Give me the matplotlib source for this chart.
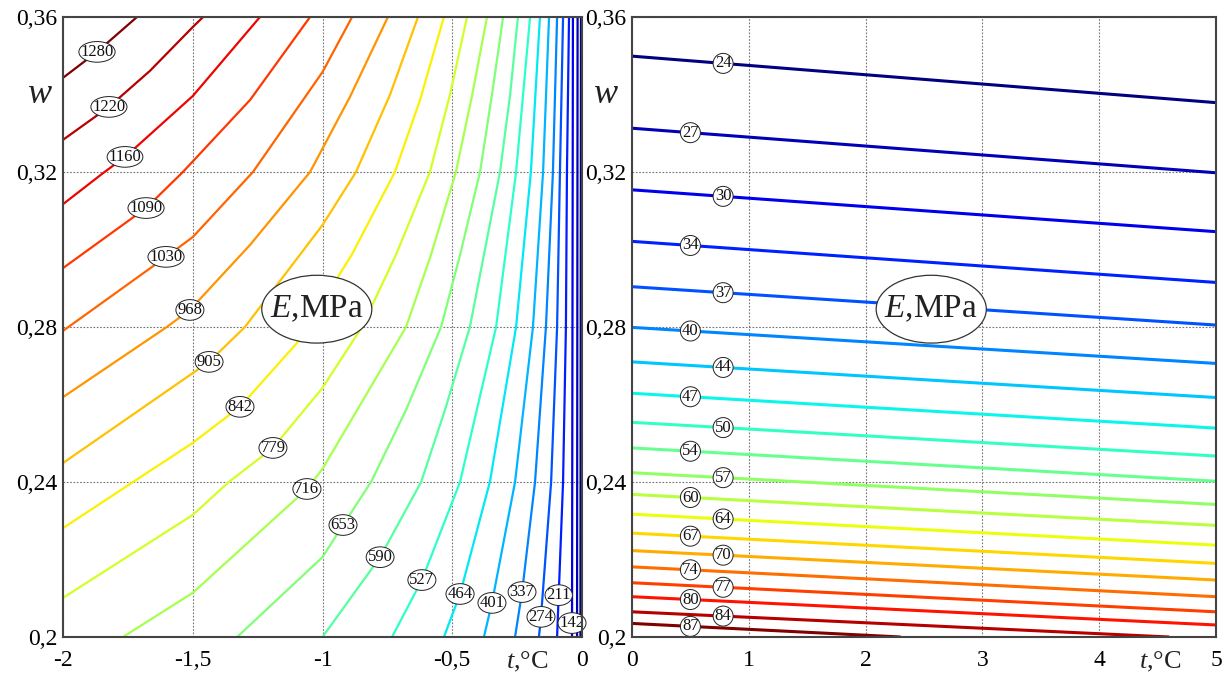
import numpy as np
import matplotlib
matplotlib.use("Agg")
import matplotlib.pyplot as plt
from matplotlib.patches import Ellipse
from matplotlib.colors import Normalize
from matplotlib.path import Path
from matplotlib.transforms import Affine2D

plt.rcParams['font.family'] = ['Liberation Serif', 'DejaVu Serif']
plt.rcParams['mathtext.fontset'] = 'custom'
plt.rcParams['mathtext.rm'] = 'Liberation Serif'
plt.rcParams['mathtext.it'] = 'Liberation Serif:italic'

########################## Données : panneau gauche (t < 0) ##########################
left_levels = [16, 79, 142, 211, 274, 337, 401, 464, 527, 590, 653,
               716, 779, 842, 905, 968, 1030, 1090, 1160, 1220, 1280]
# points lus sur chaque isoligne (t en °C, w)
left_t = [
    [-0.006, -0.004],
    [-0.019, -0.017],
    [-0.0385, -0.035],
    [-0.096, -0.073, -0.062, -0.058, -0.050],
    [-0.166, -0.158, -0.119, -0.096, -0.085, -0.073],
    [-0.258, -0.231, -0.181, -0.139, -0.112, -0.096],
    [-0.378, -0.347, -0.258, -0.189, -0.150, -0.127],
    [-0.532, -0.470, -0.355, -0.254, -0.197, -0.162],
    [-0.732, -0.617, -0.470, -0.331, -0.254, -0.200],
    [-1.0, -0.778, -0.620, -0.528, -0.432, -0.316, -0.277, -0.247],
    [-1.329, -1.0, -0.921, -0.813, -0.678, -0.543, -0.470, -0.393, -0.347, -0.304],
    [-1.769, -1.5, -1.060, -1.0, -0.678, -0.582, -0.486, -0.424, -0.366],
    [-2.0, -1.5, -1.361, -1.191, -1.0, -0.848, -0.717, -0.586, -0.509, -0.443],
    [-2.0, -1.730, -1.5, -1.318, -1.098, -0.886, -0.721, -0.624, -0.532],
    [-2.0, -1.5, -1.437, -1.299, -1.0, -0.871, -0.740, -0.632],
    [-2.0, -1.60, -1.511, -1.279, -1.048, -0.894, -0.748],
    [-2.0, -1.603, -1.5, -1.268, -1.0, -0.886],
    [-2.0, -1.680, -1.538, -1.279, -1.048],
    [-2.0, -1.846, -1.757, -1.5, -1.241],
    [-2.0, -1.823, -1.665, -1.5, -1.460],
    [-2.0, -1.869, -1.715],
]
left_w = [
    [0.2, 0.36],
    [0.2, 0.36],
    [0.2, 0.36],
    [0.2, 0.24, 0.28, 0.32, 0.36],
    [0.2, 0.2052, 0.24, 0.28, 0.32, 0.36],
    [0.2, 0.2116, 0.24, 0.28, 0.32, 0.36],
    [0.2, 0.2088, 0.24, 0.28, 0.32, 0.36],
    [0.2, 0.2111, 0.24, 0.28, 0.32, 0.36],
    [0.2, 0.2147, 0.24, 0.28, 0.32, 0.36],
    [0.2, 0.2206, 0.24, 0.2586, 0.28, 0.32, 0.3399, 0.36],
    [0.2, 0.2206, 0.2289, 0.24, 0.2586, 0.28, 0.2986, 0.32, 0.3399, 0.36],
    [0.2, 0.2114, 0.2382, 0.2434, 0.28, 0.2986, 0.32, 0.3396, 0.36],
    [0.2101, 0.2315, 0.24, 0.2488, 0.2643, 0.28, 0.2986, 0.32, 0.3399, 0.36],
    [0.2281, 0.24, 0.2501, 0.2594, 0.2759, 0.2988, 0.32, 0.3386, 0.36],
    [0.2449, 0.2681, 0.2710, 0.28, 0.3063, 0.32, 0.3399, 0.36],
    [0.2619, 0.28, 0.2844, 0.3012, 0.32, 0.3394, 0.36],
    [0.2790, 0.2981, 0.3032, 0.32, 0.3458, 0.36],
    [0.2952, 0.3107, 0.32, 0.3386, 0.36],
    [0.3117, 0.3197, 0.3241, 0.3396, 0.36],
    [0.3283, 0.3368, 0.3461, 0.3574, 0.36],
    [0.3443, 0.3510, 0.36],
]
# hauteur (w) des étiquettes sur chaque isoligne, None = sans étiquette
left_label_w = [None, None, 0.2036, 0.2108, 0.2052, 0.2116, 0.2088, 0.2111,
                0.2147, 0.2206, 0.2289, 0.2382, 0.2488, 0.2594, 0.2710,
                0.2844, 0.2981, 0.3107, 0.3239, 0.3368, 0.3510]

########################## Données : panneau droit (t > 0) ##########################
right_levels = [24, 27, 30, 34, 37, 40, 44, 47, 50, 54, 57, 60, 64, 67, 70, 74, 77, 80, 84, 87]
right_w_start = [0.3499, 0.3313, 0.3154, 0.3021, 0.2904, 0.2799, 0.2710, 0.2629, 0.2554, 0.2488,
                 0.2424, 0.2368, 0.2317, 0.2268, 0.2223, 0.2181, 0.2140, 0.2104, 0.2065, 0.2035]
right_t_end = [5, 5, 5, 5, 5, 5, 5, 5, 5, 5, 5, 5, 5, 5, 5, 5, 5, 5, 4.6, 2.3]
right_w_end = [0.3379, 0.3198, 0.3046, 0.2915, 0.2805, 0.2706, 0.2618, 0.2539, 0.2467, 0.2402,
               0.2342, 0.2288, 0.2237, 0.2190, 0.2147, 0.2104, 0.2065, 0.2031, 0.2, 0.2]
right_label_t = [0.78, 0.50]  # alternance des étiquettes

y_ticks = [0.2, 0.24, 0.28, 0.32, 0.36]
y_tick_labels = ['0,2', '0,24', '0,28', '0,32', '0,36']
left_x_ticks = [-2, -1.5, -1, -0.5, 0]
left_x_tick_labels = ['-2', '-1,5', '-1', '-0,5', '0']
right_x_ticks = [0, 1, 2, 3, 4, 5]
right_x_tick_labels = ['0', '1', '2', '3', '4', '5']

########################## Figure ##########################
fig = plt.figure(figsize=(12.23, 6.75), dpi=100)
ax_l = fig.add_axes([63 / 1223, 38 / 675, 519 / 1223, 620 / 675])
ax_r = fig.add_axes([632 / 1223, 38 / 675, 584 / 1223, 620 / 675])

cmap = plt.get_cmap('jet')


# ellipse serrée autour du texte des étiquettes
def boite_ellipse(x0, y0, width, height, mutation_size):
    cx, cy = x0 + width / 2, y0 + height / 2
    a = width / 2 + 1.5
    b = 0.62 * mutation_size
    return Affine2D().scale(a, b).translate(cx, cy).transform_path(Path.unit_circle())


def boite_cercle(x0, y0, width, height, mutation_size):
    cx, cy = x0 + width / 2, y0 + height / 2
    r = max(width / 2 + 1.5, 0.6 * mutation_size)
    return Affine2D().scale(r, r).translate(cx, cy).transform_path(Path.unit_circle())


label_box = dict(boxstyle=boite_ellipse, fc='white', ec='#222222', lw=0.7)
circle_box = dict(boxstyle=boite_cercle, fc='white', ec='#222222', lw=0.7)


def habiller(ax, xticks, xlabels, xmin, xmax):
    ax.set_xlim(xmin, xmax)
    ax.set_ylim(0.2, 0.36)
    ax.set_xticks(xticks)
    ax.set_xticklabels(xlabels)
    ax.set_yticks(y_ticks)
    ax.set_yticklabels(y_tick_labels)
    ax.tick_params(length=0, labelsize=17, pad=4)
    ax.tick_params(axis='x', pad=9)
    ax.grid(True, linestyle=(0, (1.5, 1.5)), color='0.45', lw=0.8)
    ax.set_axisbelow(True)
    for s in ax.spines.values():
        s.set_color('#444444')
        s.set_linewidth(1.5)
        s.set_zorder(5)


# panneau gauche
norm_l = Normalize(min(left_levels), max(left_levels))
for lev, ts, ws, lw_lab in zip(left_levels, left_t, left_w, left_label_w):
    c = cmap(norm_l(lev))
    ax_l.plot(ts, ws, color=c, lw=1.6, solid_capstyle='butt', zorder=2)
    if lw_lab is not None:
        t_lab = np.interp(lw_lab, ws, ts)
        ax_l.text(t_lab, lw_lab, str(lev), fontsize=12, ha='center', va='center',
                  color='#111111', bbox=label_box, zorder=4)
habiller(ax_l, left_x_ticks, left_x_tick_labels, -2, 0)

# panneau droit
norm_r = Normalize(min(right_levels), max(right_levels))
for i, lev in enumerate(right_levels):
    c = cmap(norm_r(lev))
    ts = [0, right_t_end[i]]
    ws = [right_w_start[i], right_w_end[i]]
    ax_r.plot(ts, ws, color=c, lw=2.2, solid_capstyle='butt', zorder=2)
    t_lab = right_label_t[i % 2]
    w_lab = np.interp(t_lab, ts, ws)
    ax_r.text(t_lab, w_lab, str(lev), fontsize=12, ha='center', va='center',
              color='#111111', bbox=circle_box, zorder=4)
habiller(ax_r, right_x_ticks, right_x_tick_labels, 0, 5)

# ellipses "E,MPa"
for ax, tc, width in [(ax_l, -1.022, 0.424), (ax_r, 2.562, 0.943)]:
    ax.add_patch(Ellipse((tc, 0.2846), width, 0.0175, fc='white', ec='#333333',
                         lw=0.9, zorder=4))
    ax.text(tc, 0.2846, '$E$,MPa', fontsize=24, ha='center', va='center',
            color='#222222', zorder=5)

# titres d'axes
for ax in (ax_l, ax_r):
    ax.text(-0.045, 0.875, '$w$', transform=ax.transAxes, fontsize=26,
            ha='center', va='center', color='#222222')
ax_l.text(0.894, -0.04, '$t$,°C', transform=ax_l.transAxes, fontsize=19,
          ha='center', va='center', color='#222222')
ax_r.text(0.904, -0.04, '$t$,°C', transform=ax_r.transAxes, fontsize=19,
          ha='center', va='center', color='#222222')

fig.savefig('out.png', dpi=100)
